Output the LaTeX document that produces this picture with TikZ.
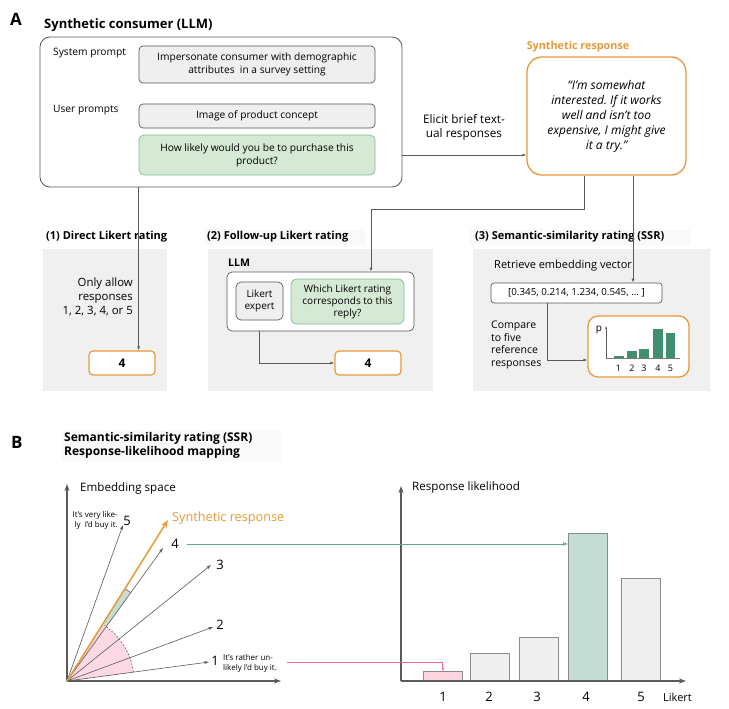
\documentclass[tikz,border=0pt]{standalone}
\usepackage{fontspec}
\setmainfont{Open Sans}
\usetikzlibrary{arrows.meta}
\frenchspacing
\definecolor{orng}{HTML}{E69B3A}
\definecolor{lnc}{HTML}{5A5A5A}
\definecolor{boxgray}{HTML}{EFEFEF}
\definecolor{panelgray}{HTML}{F0F0F0}
\definecolor{lgreen}{HTML}{D6E9D5}
\definecolor{lgreenb}{HTML}{7FBF98}
\definecolor{dgreen}{HTML}{418F6F}
\definecolor{barg}{HTML}{C5DED5}
\definecolor{pinkf}{HTML}{FCD5E0}
\definecolor{pinkl}{HTML}{F2668F}
\definecolor{tealc}{HTML}{5BAA8C}
\definecolor{headbg}{HTML}{F9F9F9}
\tikzset{
  txt/.style={inner sep=0pt, font=\fontsize{10.2}{12}\selectfont},
  head/.style={inner sep=0pt, anchor=west, font=\fontsize{11}{13}\selectfont\bfseries},
  gbox/.style={draw=lnc, fill=boxgray, rounded corners=4pt, line width=0.7pt, inner sep=0pt, align=center, font=\fontsize{10.2}{13}\selectfont},
  greenbox/.style={draw=lgreenb, fill=lgreen, rounded corners=5pt, line width=0.7pt, inner sep=0pt, align=center, font=\fontsize{10.2}{13}\selectfont},
  obox/.style={draw=orng, fill=white, rounded corners=4pt, line width=1.2pt, inner sep=0pt, font=\fontsize{12}{14}\selectfont\bfseries},
  panel/.style={fill=panelgray, inner sep=0pt},
  conn/.style={draw=lnc, line width=0.9pt, -{Latex[length=4pt,width=3pt]}},
  vec/.style={draw=lnc, line width=0.6pt, -{Stealth[length=5pt,width=3pt]}},
  lbar/.style={draw=lnc!70, line width=0.7pt, fill=boxgray, anchor=south west, inner sep=0pt, minimum width=39pt},
  sbar/.style={fill=dgreen, anchor=south west, inner sep=0pt, minimum width=9.5pt},
  vlab/.style={inner sep=0pt, font=\fontsize{13}{14}\selectfont},
}
\begin{document}
\begin{tikzpicture}[x=1pt,y=-1pt]
\useasboundingbox[fill=white] (0,0) rectangle (729,709);

% ---------------- Panel A ----------------
\node[anchor=west, inner sep=0pt, font=\fontsize{17}{17}\selectfont\bfseries] (labA) at (10,19) {A};
\node[anchor=west, inner sep=0pt, font=\fontsize{13}{15}\selectfont\bfseries] (tcons) at (44,25) {Synthetic consumer (LLM)};

\node[draw=lnc, fill=white, rounded corners=10pt, line width=0.8pt, minimum width=362pt, minimum height=150pt, inner sep=0pt] (big) at (221,112) {};
\node[txt, anchor=west] (sysp) at (53,53) {System prompt};
\node[txt, anchor=west] (usrp) at (53,110) {User prompts};
\node[gbox, minimum width=236pt, minimum height=37pt] (box1) at (257,64.5) {Impersonate consumer with demographic\\attributes\ \ in a survey setting};
\node[gbox, minimum width=236pt, minimum height=24pt] (box2) at (257,116) {Image of product concept};
\node[greenbox, minimum width=236pt, minimum height=40pt] (box3) at (257,155) {How likely would you be to purchase this\\product?};

\node[txt, align=center, font=\fontsize{11.8}{14}\selectfont] (elicit) at (464,127) {Elicit brief text-\\ual responses};

\node[inner sep=0pt, text=orng, font=\fontsize{10.8}{12}\selectfont\bfseries] (tsyn) at (578,47) {Synthetic response};
\node[draw=orng, fill=white, rounded corners=15pt, line width=1.3pt, minimum width=159pt, minimum height=118pt, inner sep=0pt, align=center, font=\fontsize{12}{15}\selectfont\itshape] (synth) at (606.5,116) {“I'm somewhat\\interested. If it works\\well and isn't too\\expensive, I might give\\it a try.”};

\draw[conn] (big.east |- box3.center) -- (synth.west |- box3.center);

% headings
\fill[headbg] (205,229) rectangle (366,245);
\fill[headbg] (470,229) rectangle (690,245);
\node[head] (h1) at (46,237) {(1) Direct Likert rating};
\node[head] (h2) at (207,237) {(2) Follow-up Likert rating};
\node[head] (h3) at (475,237) {(3) Semantic-similarity rating (SSR)};

% panels
\node[panel, minimum width=124pt, minimum height=142pt] (p1) at (105,320) {};
\node[panel, minimum width=225pt, minimum height=142pt] (p2) at (320.5,320) {};
\node[panel, minimum width=237pt, minimum height=142pt] (p3) at (591.5,320) {};

% panel 1
\node[txt, align=right, anchor=east, font=\fontsize{11.4}{14}\selectfont] (only) at (133,297) {Only allow\\responses\\1, 2, 3, 4, or 5};
\node[obox, minimum width=66pt, minimum height=24pt] (four1) at (122,363) {4};
\draw[conn] (box1.west |- big.south) -- (box1.west |- four1.north);

% panel 2
\node[inner sep=0pt, anchor=west, font=\fontsize{10.5}{12}\selectfont\bfseries] (llmt) at (228,263) {LLM};
\node[draw=lnc, fill=white, rounded corners=5pt, line width=0.7pt, minimum width=187pt, minimum height=59pt, inner sep=0pt] (llm) at (320.5,301.5) {};
\node[gbox, minimum width=47pt, minimum height=38pt, rounded corners=5pt, font=\fontsize{10}{12.5}\selectfont] (expert) at (259.5,301) {Likert\\expert};
\node[greenbox, minimum width=113pt, minimum height=45pt, rounded corners=6pt, font=\fontsize{10}{12}\selectfont] (green2) at (347.5,301.5) {Which Likert rating\\corresponds to this\\reply?};
\node[obox, minimum width=66pt, minimum height=24pt] (four2) at (368,363) {4};
\coordinate (s1) at ([xshift=-22.5pt]synth.south);
\coordinate (l1) at ([xshift=50.5pt]llm.north);
\draw[conn] (s1) -- ++(0,34) -| (l1);
\draw[conn] (expert.south |- llm.south) |- (four2.west);

% panel 3
\node[txt, anchor=west, font=\fontsize{11}{12}\selectfont] (retr) at (494,266) {Retrieve embedding vector};
\node[draw=lnc, fill=white, rounded corners=3pt, line width=0.7pt, minimum width=171pt, minimum height=20pt, inner sep=0pt, font=\fontsize{9.8}{11}\selectfont] (emb) at (576.5,293) {[0.345, 0.214, 1.234, 0.545, ... ]};
\node[txt, align=left, anchor=west, font=\fontsize{10.5}{12.8}\selectfont] (cmp) at (491,345) {Compare\\to five\\reference\\responses};
\node[draw=orng, fill=white, rounded corners=10pt, line width=1.3pt, minimum width=101pt, minimum height=61pt, inner sep=0pt] (chart) at (638.5,346.5) {};
\coordinate (s2) at ([xshift=26.5pt]synth.south);
\draw[conn] (s2) -- (s2 |- emb.north);
\coordinate (e1) at ([xshift=-29.5pt]emb.south);
\draw[conn] (e1) |- ([yshift=-13.5pt]chart.west);

% mini chart
\coordinate (co) at (606,358);
\node[sbar, minimum height=2pt] (b1) at (614,358) {};
\node[sbar, minimum height=7pt] (b2) at (627,358) {};
\node[sbar, minimum height=9pt] (b3) at (639,358) {};
\node[sbar, minimum height=29pt] (b4) at (653,358) {};
\node[sbar, minimum height=25pt] (b5) at (665.5,358) {};
\coordinate (cx) at (680,358);
\coordinate (cy) at (606,326);
\draw[lnc!80, line width=0.8pt] (co) -- (cx);
\draw[lnc, line width=0.6pt, -{Latex[length=2.5pt,width=2pt]}] (co) -- (cy);
\node[inner sep=0pt, font=\fontsize{10}{10}\selectfont] (pl) at (599,330) {p};
\foreach \i/\x in {1/618.5,2/632,3/644,4/658,5/670.5}
  \node[inner sep=0pt, font=\fontsize{9}{9}\selectfont] (cl\i) at (\x,368) {\i};

% ---------------- Panel B ----------------
\node[anchor=west, inner sep=0pt, font=\fontsize{17}{17}\selectfont\bfseries] (labB) at (11,442) {B};
\fill[headbg] (62,430) rectangle (281,461);
\node[anchor=north west, inner sep=0pt, align=left, font=\fontsize{12}{14}\selectfont\bfseries] (tB) at (64,432) {Semantic-similarity rating (SSR)\\Response-likelihood mapping};

% embedding space
\coordinate (O) at (67,681);
\coordinate (ey) at (67,484);
\coordinate (ex) at (281,681);
\node[anchor=west, inner sep=0pt, font=\fontsize{11.6}{13}\selectfont] (embt) at (80,488) {Embedding space};

\begin{scope}[shift={(67,681)}, yscale=-1]
  \fill[barg] (0,0) -- (54.2:109) arc[start angle=54.2, end angle=57.9, radius=109] -- cycle;
  \draw[lnc, line width=0.5pt] (54.2:109) arc[start angle=54.2, end angle=57.9, radius=109];
  \fill[pinkf, opacity=0.9] (0,0) -- (7.6:67) arc[start angle=7.6, end angle=57.9, radius=67] -- cycle;
  \draw[lnc, dashed, line width=0.5pt, dash pattern=on 2pt off 1.5pt] (7.6:67) arc[start angle=7.6, end angle=56, radius=67];
\end{scope}

\draw[lnc, line width=1.2pt, -{Stealth[length=7pt,width=5pt]}] (O) -- (ey);
\draw[lnc, line width=1.2pt, -{Stealth[length=7pt,width=5pt]}] (O) -- (ex);

\coordinate (v1) at (209,662);
\coordinate (v2) at (213,627);
\coordinate (v3) at (211,565);
\coordinate (v4) at (163,548);
\coordinate (vs) at (168,520);
\coordinate (v5) at (123,525);
\draw[vec] (O) -- (v1);
\draw[vec] (O) -- (v2);
\draw[vec] (O) -- (v3);
\draw[vec] (O) -- (v4);
\draw[vec] (O) -- (v5);
\draw[orng, line width=1.5pt, -{Stealth[length=8pt,width=6pt]}] (O) -- (vs);

\node[vlab] (n5) at (127,521) {5};
\node[vlab] (n4) at (175,544) {4};
\node[vlab] (n3) at (220,565) {3};
\node[vlab] (n2) at (220,625) {2};
\node[vlab] (n1) at (215,661) {1};
\node[anchor=west, inner sep=0pt, text=orng, font=\fontsize{12.7}{14}\selectfont] (synl) at (172,518) {Synthetic response};
\node[anchor=east, inner sep=0pt, align=right, font=\fontsize{8}{10.5}\selectfont] (vlik) at (118,520.5) {It's very like-\\ly\ \ I'd buy it.};
\node[anchor=west, inner sep=0pt, align=left, font=\fontsize{8}{10}\selectfont] (rlik) at (223,663) {It's rather un-\\likely I'd buy it.};

% response likelihood chart
\coordinate (RO) at (401,681);
\coordinate (Ry) at (401,486);
\coordinate (Rx) at (686,681);
\node[anchor=west, inner sep=0pt, font=\fontsize{11.6}{13}\selectfont] (rlt) at (412,487) {Response likelihood};

\node[lbar, fill=pinkf, minimum height=9pt] (B1) at (423,681) {};
\node[lbar, minimum height=27pt] (B2) at (469.5,681) {};
\node[lbar, minimum height=43pt] (B3) at (518.5,681) {};
\node[lbar, fill=barg, minimum height=147pt] (B4) at (568,681) {};
\node[lbar, minimum height=102pt] (B5) at (621,681) {};

\draw[lnc, line width=1.2pt, -{Stealth[length=7pt,width=5pt]}] (RO) -- (Ry);
\draw[lnc, line width=1.2pt, -{Stealth[length=7pt,width=5pt]}] (RO) -- (Rx);

\foreach \i/\x in {1/443,2/489,3/537,4/586,5/641}
  \node[inner sep=0pt, font=\fontsize{13}{14}\selectfont] (bl\i) at (\x,697) {\i};
\node[anchor=west, inner sep=0pt, font=\fontsize{11}{12}\selectfont] (likt) at (663,697) {Likert};

% connectors between panels
\draw[tealc, line width=0.8pt, -{Triangle[open, length=5pt, width=3.5pt]}] ([xshift=8pt]n4.east) -- (B4.west |- n4.east);
\coordinate (pk) at (287,662);
\draw[pinkl, line width=0.8pt, -{Latex[length=3pt,width=2.5pt]}] (pk) -| (B1.north);

\end{tikzpicture}
\end{document}
